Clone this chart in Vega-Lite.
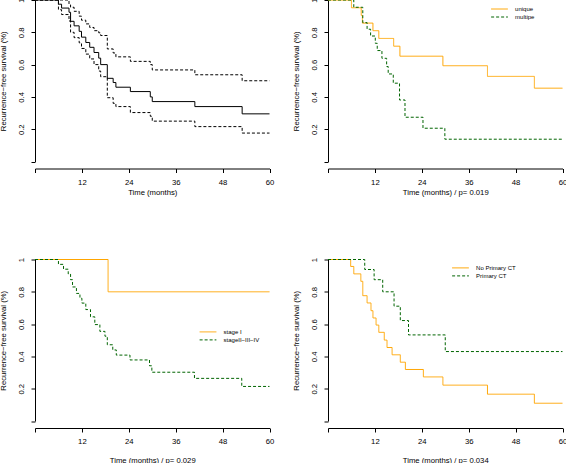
{
  "$schema": "https://vega.github.io/schema/vega-lite/v6.json",
  "autosize": {"type": "none"},
  "padding": {"left": 35, "top": 0, "right": 531, "bottom": 463},
  "bounds": "flush",
  "columns": 2,
  "spacing": {"row": 97.5, "column": 58},
  "datasets": {
    "all": [
      {"t": 0, "s": 1, "hi": 1, "lo": 1},
      {"t": 6.0, "s": 0.974, "hi": 1, "lo": 0.94},
      {"t": 6.8, "s": 0.95, "hi": 1, "lo": 0.91},
      {"t": 8.7, "s": 0.924, "hi": 0.97, "lo": 0.87},
      {"t": 9.1, "s": 0.868, "hi": 0.955, "lo": 0.8},
      {"t": 10.0, "s": 0.84, "hi": 0.93, "lo": 0.767},
      {"t": 11.3, "s": 0.806, "hi": 0.9, "lo": 0.735},
      {"t": 11.9, "s": 0.77, "hi": 0.875, "lo": 0.7},
      {"t": 13.0, "s": 0.737, "hi": 0.852, "lo": 0.665},
      {"t": 14.0, "s": 0.707, "hi": 0.83, "lo": 0.635},
      {"t": 15.1, "s": 0.675, "hi": 0.81, "lo": 0.6},
      {"t": 16.3, "s": 0.64, "hi": 0.797, "lo": 0.56},
      {"t": 16.8, "s": 0.6, "hi": 0.78, "lo": 0.525},
      {"t": 18.5, "s": 0.515, "hi": 0.697, "lo": 0.395},
      {"t": 20.0, "s": 0.489, "hi": 0.672, "lo": 0.36},
      {"t": 20.7, "s": 0.46, "hi": 0.648, "lo": 0.34},
      {"t": 24.4, "s": 0.433, "hi": 0.62, "lo": 0.303},
      {"t": 29.5, "s": 0.4, "hi": 0.6, "lo": 0.28},
      {"t": 30.0, "s": 0.371, "hi": 0.567, "lo": 0.25},
      {"t": 40.9, "s": 0.34, "hi": 0.537, "lo": 0.216},
      {"t": 53.0, "s": 0.295, "hi": 0.5, "lo": 0.176},
      {"t": 60, "s": 0.295, "hi": 0.5, "lo": 0.176}
    ],
    "focus": [
      {"group": "unique", "t": 0, "s": 1},
      {"group": "unique", "t": 6.0, "s": 0.952},
      {"group": "unique", "t": 8.5, "s": 0.905},
      {"group": "unique", "t": 8.8, "s": 0.857},
      {"group": "unique", "t": 11.5, "s": 0.81},
      {"group": "unique", "t": 13.0, "s": 0.762},
      {"group": "unique", "t": 16.8, "s": 0.714},
      {"group": "unique", "t": 18.4, "s": 0.652},
      {"group": "unique", "t": 29.4, "s": 0.593},
      {"group": "unique", "t": 40.8, "s": 0.527},
      {"group": "unique", "t": 52.8, "s": 0.454},
      {"group": "unique", "t": 60, "s": 0.454},
      {"group": "multipe", "t": 0, "s": 1},
      {"group": "multipe", "t": 6.6, "s": 0.955},
      {"group": "multipe", "t": 8.9, "s": 0.86},
      {"group": "multipe", "t": 10.0, "s": 0.819},
      {"group": "multipe", "t": 10.9, "s": 0.777},
      {"group": "multipe", "t": 12.1, "s": 0.732},
      {"group": "multipe", "t": 12.6, "s": 0.687},
      {"group": "multipe", "t": 13.8, "s": 0.639},
      {"group": "multipe", "t": 15.0, "s": 0.588},
      {"group": "multipe", "t": 15.4, "s": 0.542},
      {"group": "multipe", "t": 16.7, "s": 0.485},
      {"group": "multipe", "t": 18.3, "s": 0.381},
      {"group": "multipe", "t": 19.7, "s": 0.274},
      {"group": "multipe", "t": 24.3, "s": 0.206},
      {"group": "multipe", "t": 29.9, "s": 0.138},
      {"group": "multipe", "t": 60, "s": 0.138}
    ],
    "stage": [
      {"group": "stage I", "t": 0, "s": 1},
      {"group": "stage I", "t": 18.7, "s": 0.8},
      {"group": "stage I", "t": 60, "s": 0.8},
      {"group": "stageII−III−IV", "t": 0, "s": 1},
      {"group": "stageII−III−IV", "t": 6.0, "s": 0.97},
      {"group": "stageII−III−IV", "t": 7.3, "s": 0.94},
      {"group": "stageII−III−IV", "t": 8.5, "s": 0.91},
      {"group": "stageII−III−IV", "t": 9.1, "s": 0.875},
      {"group": "stageII−III−IV", "t": 9.6, "s": 0.83},
      {"group": "stageII−III−IV", "t": 10.6, "s": 0.79},
      {"group": "stageII−III−IV", "t": 11.5, "s": 0.76},
      {"group": "stageII−III−IV", "t": 12.0, "s": 0.73},
      {"group": "stageII−III−IV", "t": 13.0, "s": 0.69},
      {"group": "stageII−III−IV", "t": 14.2, "s": 0.645},
      {"group": "stageII−III−IV", "t": 15.3, "s": 0.597},
      {"group": "stageII−III−IV", "t": 16.6, "s": 0.555},
      {"group": "stageII−III−IV", "t": 17.9, "s": 0.525},
      {"group": "stageII−III−IV", "t": 18.5, "s": 0.472},
      {"group": "stageII−III−IV", "t": 19.9, "s": 0.44},
      {"group": "stageII−III−IV", "t": 20.8, "s": 0.408},
      {"group": "stageII−III−IV", "t": 24.3, "s": 0.378},
      {"group": "stageII−III−IV", "t": 29.3, "s": 0.342},
      {"group": "stageII−III−IV", "t": 29.9, "s": 0.302},
      {"group": "stageII−III−IV", "t": 40.8, "s": 0.264},
      {"group": "stageII−III−IV", "t": 52.9, "s": 0.214},
      {"group": "stageII−III−IV", "t": 60, "s": 0.214}
    ],
    "ct": [
      {"group": "No Primary CT", "t": 0, "s": 1},
      {"group": "No Primary CT", "t": 5.8, "s": 0.957},
      {"group": "No Primary CT", "t": 6.6, "s": 0.911},
      {"group": "No Primary CT", "t": 8.4, "s": 0.865},
      {"group": "No Primary CT", "t": 8.9, "s": 0.776},
      {"group": "No Primary CT", "t": 10.0, "s": 0.731},
      {"group": "No Primary CT", "t": 11.0, "s": 0.683},
      {"group": "No Primary CT", "t": 11.5, "s": 0.638},
      {"group": "No Primary CT", "t": 12.3, "s": 0.594},
      {"group": "No Primary CT", "t": 13.0, "s": 0.549},
      {"group": "No Primary CT", "t": 14.4, "s": 0.501},
      {"group": "No Primary CT", "t": 15.1, "s": 0.455},
      {"group": "No Primary CT", "t": 16.4, "s": 0.41},
      {"group": "No Primary CT", "t": 18.5, "s": 0.364},
      {"group": "No Primary CT", "t": 19.8, "s": 0.319},
      {"group": "No Primary CT", "t": 24.4, "s": 0.273},
      {"group": "No Primary CT", "t": 29.4, "s": 0.222},
      {"group": "No Primary CT", "t": 40.8, "s": 0.166},
      {"group": "No Primary CT", "t": 52.8, "s": 0.11},
      {"group": "No Primary CT", "t": 60, "s": 0.11},
      {"group": "Primary CT", "t": 0, "s": 1},
      {"group": "Primary CT", "t": 9.4, "s": 0.938},
      {"group": "Primary CT", "t": 11.8, "s": 0.875},
      {"group": "Primary CT", "t": 14.0, "s": 0.8},
      {"group": "Primary CT", "t": 16.9, "s": 0.711},
      {"group": "Primary CT", "t": 18.5, "s": 0.622},
      {"group": "Primary CT", "t": 20.6, "s": 0.533},
      {"group": "Primary CT", "t": 30.0, "s": 0.43},
      {"group": "Primary CT", "t": 60, "s": 0.43}
    ]
  },
  "concat": [
    {
      "width": 234.5,
      "height": 161.5,
      "data": {"name": "all"},
      "layer": [
        {
          "mark": {"type": "line", "interpolate": "step-after", "color": "#000000", "strokeWidth": 1},
          "encoding": {
            "x": {"field": "t", "type": "quantitative", "scale": {"domain": [0, 60], "nice": false, "zero": false}, "axis": {"values": [0, 12, 24, 36, 48, 60], "labelExpr": "datum.value == 0 ? '' : datum.label", "title": "Time (months)", "titlePadding": 2.8}},
            "y": {"field": "s", "type": "quantitative", "scale": {"domain": [0, 1], "nice": false}, "axis": {"values": [0, 0.2, 0.4, 0.6, 0.8, 1], "labelExpr": "datum.value == 0 ? '' : format(datum.value, '~g')", "title": "Recurrence−free survival (%)"}}
          }
        },
        {
          "mark": {"type": "line", "interpolate": "step-after", "color": "#000000", "strokeWidth": 1, "strokeDash": [3, 2]},
          "encoding": {
            "x": {"field": "t", "type": "quantitative", "scale": {"domain": [0, 60], "nice": false, "zero": false}, "axis": {"values": [0, 12, 24, 36, 48, 60], "labelExpr": "datum.value == 0 ? '' : datum.label", "title": "Time (months)", "titlePadding": 2.8}},
            "y": {"field": "hi", "type": "quantitative", "scale": {"domain": [0, 1], "nice": false}, "axis": {"values": [0, 0.2, 0.4, 0.6, 0.8, 1], "labelExpr": "datum.value == 0 ? '' : format(datum.value, '~g')", "title": "Recurrence−free survival (%)"}}
          }
        },
        {
          "mark": {"type": "line", "interpolate": "step-after", "color": "#000000", "strokeWidth": 1, "strokeDash": [3, 2]},
          "encoding": {
            "x": {"field": "t", "type": "quantitative", "scale": {"domain": [0, 60], "nice": false, "zero": false}, "axis": {"values": [0, 12, 24, 36, 48, 60], "labelExpr": "datum.value == 0 ? '' : datum.label", "title": "Time (months)", "titlePadding": 2.8}},
            "y": {"field": "lo", "type": "quantitative", "scale": {"domain": [0, 1], "nice": false}, "axis": {"values": [0, 0.2, 0.4, 0.6, 0.8, 1], "labelExpr": "datum.value == 0 ? '' : format(datum.value, '~g')", "title": "Recurrence−free survival (%)"}}
          }
        }
      ]
    },
    {
      "width": 234.5,
      "height": 161.5,
      "data": {"name": "focus"},
      "mark": {"type": "line", "interpolate": "step-after", "strokeWidth": 1},
      "encoding": {
        "x": {"field": "t", "type": "quantitative", "scale": {"domain": [0, 60], "nice": false, "zero": false}, "axis": {"values": [0, 12, 24, 36, 48, 60], "labelExpr": "datum.value == 0 ? '' : datum.label", "title": "Time (months) / p= 0.019", "titlePadding": 2.8}},
        "y": {"field": "s", "type": "quantitative", "scale": {"domain": [0, 1], "nice": false}, "axis": {"values": [0, 0.2, 0.4, 0.6, 0.8, 1], "labelExpr": "datum.value == 0 ? '' : format(datum.value, '~g')", "title": "Recurrence−free survival (%)"}},
        "color": {"field": "group", "type": "nominal", "sort": null, "scale": {"domain": ["unique", "multipe"], "range": ["#FFA500", "#006400"]}, "legend": {"title": null, "orient": "none", "legendX": 167, "legendY": 4.5, "encode": {"symbols": {"update": {"strokeDash": {"signal": "datum.value === 'multipe' ? [3, 2] : [1, 0]"}}}}}},
        "strokeDash": {"field": "group", "type": "nominal", "sort": null, "scale": {"domain": ["unique", "multipe"], "range": [[1, 0], [3, 2]]}, "legend": null}
      }
    },
    {
      "width": 234.5,
      "height": 161.5,
      "data": {"name": "stage"},
      "mark": {"type": "line", "interpolate": "step-after", "strokeWidth": 1},
      "encoding": {
        "x": {"field": "t", "type": "quantitative", "scale": {"domain": [0, 60], "nice": false, "zero": false}, "axis": {"values": [0, 12, 24, 36, 48, 60], "labelExpr": "datum.value == 0 ? '' : datum.label", "title": "Time (months) / p= 0.029", "titlePadding": 10.8}},
        "y": {"field": "s", "type": "quantitative", "scale": {"domain": [0, 1], "nice": false}, "axis": {"values": [0, 0.2, 0.4, 0.6, 0.8, 1], "labelExpr": "datum.value == 0 ? '' : format(datum.value, '~g')", "title": "Recurrence−free survival (%)"}},
        "color": {"field": "group", "type": "nominal", "sort": null, "scale": {"domain": ["stage I", "stageII−III−IV"], "range": ["#FFA500", "#006400"]}, "legend": {"title": null, "orient": "none", "legendX": 168.5, "legendY": 67.9, "encode": {"symbols": {"update": {"strokeDash": {"signal": "datum.value === 'stage I' ? [1, 0] : [3, 2]"}}}}}},
        "strokeDash": {"field": "group", "type": "nominal", "sort": null, "scale": {"domain": ["stage I", "stageII−III−IV"], "range": [[1, 0], [3, 2]]}, "legend": null}
      }
    },
    {
      "width": 234.5,
      "height": 161.5,
      "data": {"name": "ct"},
      "mark": {"type": "line", "interpolate": "step-after", "strokeWidth": 1},
      "encoding": {
        "x": {"field": "t", "type": "quantitative", "scale": {"domain": [0, 60], "nice": false, "zero": false}, "axis": {"values": [0, 12, 24, 36, 48, 60], "labelExpr": "datum.value == 0 ? '' : datum.label", "title": "Time (months) / p= 0.034", "titlePadding": 10.8}},
        "y": {"field": "s", "type": "quantitative", "scale": {"domain": [0, 1], "nice": false}, "axis": {"values": [0, 0.2, 0.4, 0.6, 0.8, 1], "labelExpr": "datum.value == 0 ? '' : format(datum.value, '~g')", "title": "Recurrence−free survival (%)"}},
        "color": {"field": "group", "type": "nominal", "sort": null, "scale": {"domain": ["No Primary CT", "Primary CT"], "range": ["#FFA500", "#006400"]}, "legend": {"title": null, "orient": "none", "legendX": 128, "legendY": 3.9, "encode": {"symbols": {"update": {"strokeDash": {"signal": "datum.value === 'Primary CT' ? [3, 2] : [1, 0]"}}}}}},
        "strokeDash": {"field": "group", "type": "nominal", "sort": null, "scale": {"domain": ["No Primary CT", "Primary CT"], "range": [[1, 0], [3, 2]]}, "legend": null}
      }
    }
  ],
  "resolve": {
    "scale": {"x": "independent", "y": "independent", "color": "independent", "strokeDash": "independent"},
    "legend": {"color": "independent"}
  },
  "config": {
    "view": {"stroke": null},
    "font": "Liberation Sans",
    "axis": {
      "grid": false,
      "domainColor": "#000000",
      "tickColor": "#000000",
      "labelColor": "#000000",
      "titleColor": "#000000",
      "labelFont": "Liberation Sans",
      "titleFont": "Liberation Sans",
      "labelFontSize": 7.7,
      "titleFontSize": 7.7,
      "titleFontWeight": "normal",
      "tickSize": 4,
      "domainWidth": 1,
      "tickWidth": 1,
      "labelOverlap": false,
      "labelFlush": false
    },
    "axisX": {"offset": 7, "labelPadding": 5.5},
    "axisY": {"labelAngle": -90, "labelAlign": "center", "labelBaseline": "bottom", "labelPadding": 5.6, "titlePadding": 10},
    "legend": {
      "symbolType": "M-2.2,0H2.2",
      "symbolStrokeWidth": 1,
      "symbolSize": 58,
      "labelFont": "Liberation Sans",
      "labelFontSize": 6,
      "labelColor": "#000000",
      "labelOffset": 11.1,
      "rowPadding": 0,
      "padding": 0
    }
  }
}
